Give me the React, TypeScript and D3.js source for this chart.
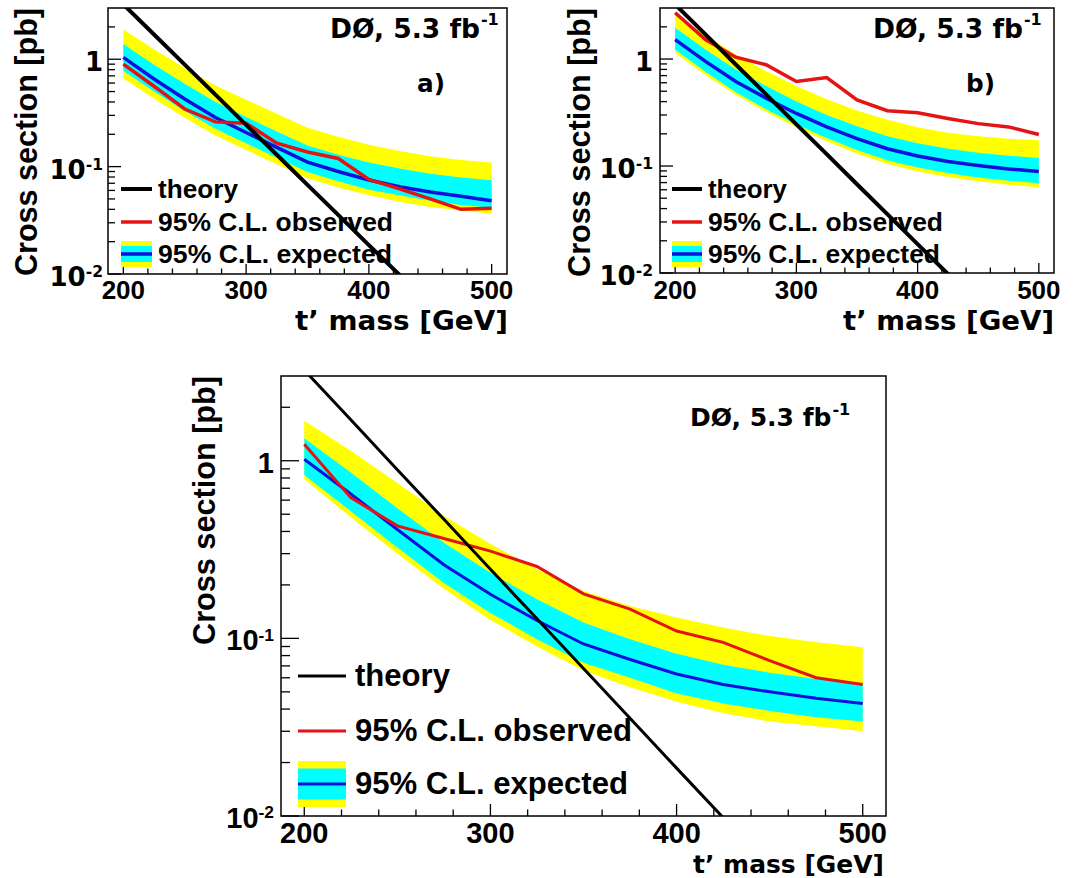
import React from "react";
import * as d3 from "d3";

const MASS = [200, 225, 250, 275, 300, 325, 350, 375, 400, 425, 450, 475, 500];
const THEORY = [3.24, 1.7, 0.89, 0.468, 0.245, 0.129, 0.0676, 0.0355, 0.0186, 0.0098, 0.0051, 0.0027, 0.0014];

// panel a)
const A_OBSERVED = [0.9, 0.56, 0.344, 0.261, 0.254, 0.165, 0.137, 0.119, 0.076, 0.062, 0.05, 0.04, 0.041];
const A_EXPECTED = [1.04, 0.655, 0.426, 0.287, 0.208, 0.151, 0.11, 0.09, 0.075, 0.065, 0.058, 0.053, 0.048];
const A_PLUS2 = [1.89, 1.24, 0.83, 0.57, 0.42, 0.31, 0.23, 0.19, 0.16, 0.14, 0.125, 0.115, 0.109];
const A_PLUS1 = [1.39, 0.89, 0.59, 0.4, 0.29, 0.212, 0.157, 0.129, 0.109, 0.096, 0.086, 0.079, 0.0745];
const A_MINUS1 = [0.78, 0.5, 0.33, 0.225, 0.165, 0.121, 0.089, 0.073, 0.061, 0.054, 0.048, 0.044, 0.0414];
const A_MINUS2 = [0.66, 0.43, 0.285, 0.195, 0.143, 0.105, 0.078, 0.064, 0.054, 0.047, 0.042, 0.039, 0.0364];

// panel b)
const B_OBSERVED = [2.71, 1.52, 1.04, 0.885, 0.617, 0.671, 0.414, 0.329, 0.315, 0.278, 0.249, 0.232, 0.197];
const B_EXPECTED = [1.52, 0.95, 0.617, 0.43, 0.31, 0.232, 0.18, 0.145, 0.124, 0.11, 0.101, 0.094, 0.0887];
const B_PLUS2 = [2.65, 1.68, 1.1, 0.77, 0.56, 0.42, 0.33, 0.27, 0.23, 0.205, 0.19, 0.18, 0.174];
const B_PLUS1 = [1.96, 1.23, 0.8, 0.56, 0.4, 0.3, 0.235, 0.19, 0.163, 0.145, 0.133, 0.125, 0.119];
const B_MINUS1 = [1.22, 0.76, 0.49, 0.34, 0.245, 0.183, 0.141, 0.113, 0.097, 0.086, 0.078, 0.073, 0.069];
const B_MINUS2 = [1.14, 0.71, 0.46, 0.32, 0.23, 0.17, 0.13, 0.105, 0.089, 0.079, 0.072, 0.067, 0.063];

// combined (bottom)
const C_OBSERVED = [1.24, 0.62, 0.43, 0.365, 0.31, 0.254, 0.178, 0.146, 0.11, 0.095, 0.075, 0.06, 0.055];
const C_EXPECTED = [1.02, 0.65, 0.41, 0.26, 0.177, 0.126, 0.093, 0.076, 0.063, 0.055, 0.05, 0.046, 0.043];
const C_PLUS2 = [1.68, 1.14, 0.75, 0.49, 0.34, 0.245, 0.185, 0.152, 0.131, 0.115, 0.103, 0.095, 0.089];
const C_PLUS1 = [1.34, 0.86, 0.54, 0.345, 0.234, 0.166, 0.123, 0.099, 0.082, 0.071, 0.064, 0.059, 0.055];
const C_MINUS1 = [0.83, 0.52, 0.325, 0.205, 0.139, 0.099, 0.073, 0.06, 0.049, 0.043, 0.039, 0.036, 0.034];
const C_MINUS2 = [0.79, 0.48, 0.3, 0.19, 0.127, 0.09, 0.066, 0.053, 0.044, 0.038, 0.034, 0.032, 0.03];

const X_DOMAIN = [187.5, 512.5];
const Y_DOMAIN = [0.01, 3];
const X_LABELS = [200, 300, 400, 500];
const Y_LABELS = [
  { value: 1, base: "1", exp: "" },
  { value: 0.1, base: "10", exp: "-1" },
  { value: 0.01, base: "10", exp: "-2" },
];
const LEGEND_LABELS = ["theory", "95% C.L. observed", "95% C.L. expected"];
const LUMI_TEXT = "DØ, 5.3 fb";
const LUMI_EXP = "-1";
const X_TITLE = "t\u2019 mass [GeV]";
const Y_TITLE = "Cross section [pb]";

const HELV = "'Liberation Sans', Arial, Helvetica, sans-serif";
const DEJAVU = "'DejaVu Sans', 'Liberation Sans', sans-serif";
const YELLOW = "#ffff00";
const CYAN = "#00ffff";
const BLUE = "#1010dc";
const RED = "#e41414";

const LAYOUT_A = {
  frame: { l: 108, t: 8, r: 507, b: 274 },
  xLabel: { family: HELV, size: 26, baseline: 299 },
  yLabel: { family: DEJAVU, size: 26, right: 103, dy: 12 },
  majorY: 13, minorY: 7, majorX: 10, minorX: 5.5,
  yTitle: { x: 37, top: 8, length: 268, font: 30.5 },
  xTitle: { right: 508, baseline: 330, length: 213, font: 27 },
  legend: { x1: 121, x2: 152, tx: 158, rows: [189, 222, 254], widths: [80, 235, 234], font: 26.5, dy: 9, yellowHalf: 13, cyanHalf: 8 },
  lumi: { x: 330, baseline: 38, font: 26.5, supFont: 16, supDy: -13 },
  tag: { text: "a)", x: 417, baseline: 92, length: 28, font: 25 },
  widths: { theory: 4, observed: 3.5, expected: 3.5 },
};

const LAYOUT_B = {
  frame: { l: 660, t: 8, r: 1054, b: 273 },
  xLabel: { family: HELV, size: 26, baseline: 299 },
  yLabel: { family: DEJAVU, size: 26, right: 653, dy: 12 },
  majorY: 13, minorY: 7, majorX: 10, minorX: 5.5,
  yTitle: { x: 590, top: 8, length: 269, font: 30.5 },
  xTitle: { right: 1054, baseline: 330, length: 211, font: 27 },
  legend: { x1: 672, x2: 702, tx: 708, rows: [189, 222, 254], widths: [79, 235, 232], font: 26.5, dy: 9, yellowHalf: 13, cyanHalf: 8 },
  lumi: { x: 873, baseline: 38, font: 26.5, supFont: 16, supDy: -13 },
  tag: { text: "b)", x: 966, baseline: 92, length: 29, font: 25 },
  widths: { theory: 4, observed: 3.5, expected: 3.5 },
};

const LAYOUT_C = {
  frame: { l: 281, t: 376, r: 886, b: 816 },
  xLabel: { family: HELV, size: 29, baseline: 843 },
  yLabel: { family: HELV, size: 29, right: 274, dy: 12 },
  majorY: 18, minorY: 9, majorX: 12, minorX: 6.5,
  yTitle: { x: 215, top: 376, length: 269, font: 30.5 },
  xTitle: { right: 884, baseline: 873, length: 191, font: 25.5 },
  legend: { x1: 298, x2: 346, tx: 355, rows: [676, 731, 784], widths: [95, 277, 273], font: 31, dy: 10, yellowHalf: 23, cyanHalf: 15.5 },
  lumi: { x: 690, baseline: 426, font: 25, supFont: 16, supDy: -11 },
  tag: null,
  widths: { theory: 3, observed: 3, expected: 3 },
};

type Series = { observed: number[]; expected: number[]; plus1: number[]; minus1: number[]; plus2: number[]; minus2: number[] };

function LimitPanel({ id, layout, series }: { id: string; layout: any; series: Series }) {
  const { frame, legend } = layout;
  const x = d3.scaleLinear().domain(X_DOMAIN).range([frame.l, frame.r]);
  const y = d3.scaleLog().domain(Y_DOMAIN).range([frame.b, frame.t]);

  const line = (vals: number[]) =>
    d3.line<number>().x((_, i) => x(MASS[i])).y((v) => y(v))(vals) ?? "";
  const band = (lo: number[], hi: number[]) =>
    d3.area<number>().x((m) => x(m)).y0((_, i) => y(lo[i])).y1((_, i) => y(hi[i]))(MASS) ?? "";

  const yTicks = y.ticks().filter((v) => v < Y_DOMAIN[1] * 0.99);
  const xTicks = d3.range(200, 501, 20);
  const isDecade = (v: number) => Math.abs(Math.log10(v) - Math.round(Math.log10(v))) < 1e-6;

  return (
    <g fontWeight="bold" fill="#000">
      <defs>
        <clipPath id={`clip-${id}`}>
          <rect x={frame.l} y={frame.t} width={frame.r - frame.l} height={frame.b - frame.t} />
        </clipPath>
      </defs>

      <g clipPath={`url(#clip-${id})`}>
        <path d={band(series.minus2, series.plus2)} fill={YELLOW} />
        <path d={band(series.minus1, series.plus1)} fill={CYAN} />
        <path d={line(series.expected)} fill="none" stroke={BLUE} strokeWidth={layout.widths.expected} />
        <path d={line(series.observed)} fill="none" stroke={RED} strokeWidth={layout.widths.observed} />
        <path d={line(THEORY)} fill="none" stroke="#000" strokeWidth={layout.widths.theory} />
      </g>

      <rect x={frame.l} y={frame.t} width={frame.r - frame.l} height={frame.b - frame.t} fill="none" stroke="#000" strokeWidth={1.5} />

      {yTicks.map((v) => (
        <line key={`yt${v}`} x1={frame.l} x2={frame.l + (isDecade(v) ? layout.majorY : layout.minorY)} y1={y(v)} y2={y(v)} stroke="#000" strokeWidth={1.3} />
      ))}
      {xTicks.map((v) => (
        <line key={`xt${v}`} x1={x(v)} x2={x(v)} y1={frame.b} y2={frame.b - (v % 100 === 0 ? layout.majorX : layout.minorX)} stroke="#000" strokeWidth={1.3} />
      ))}

      {X_LABELS.map((v) => (
        <text key={`xl${v}`} x={x(v)} y={layout.xLabel.baseline} textAnchor="middle" fontFamily={layout.xLabel.family} fontSize={layout.xLabel.size}>
          {v}
        </text>
      ))}
      {Y_LABELS.map((d) => (
        <text
          key={`yl${d.value}`}
          x={layout.yLabel.right}
          y={y(d.value) + layout.yLabel.dy}
          textAnchor="end"
          fontFamily={layout.yLabel.family}
          fontSize={layout.yLabel.size}
        >
          {d.base}
          {d.exp ? (
            <tspan dy={-layout.yLabel.size * 0.33} fontSize={layout.yLabel.size * 0.6}>
              {d.exp}
            </tspan>
          ) : null}
        </text>
      ))}

      <text
        x={layout.xTitle.right}
        y={layout.xTitle.baseline}
        textAnchor="end"
        fontFamily={DEJAVU}
        fontSize={layout.xTitle.font}
        textLength={layout.xTitle.length}
        lengthAdjust="spacingAndGlyphs"
      >
        {X_TITLE}
      </text>
      <text
        transform={`translate(${layout.yTitle.x},${layout.yTitle.top}) rotate(-90)`}
        textAnchor="end"
        fontFamily={HELV}
        fontSize={layout.yTitle.font}
        textLength={layout.yTitle.length}
        lengthAdjust="spacingAndGlyphs"
      >
        {Y_TITLE}
      </text>

      <text x={layout.lumi.x} y={layout.lumi.baseline} fontFamily={DEJAVU} fontSize={layout.lumi.font}>
        {LUMI_TEXT}
        <tspan dx={1} dy={layout.lumi.supDy} fontSize={layout.lumi.supFont}>
          {LUMI_EXP}
        </tspan>
      </text>
      {layout.tag ? (
        <text
          x={layout.tag.x}
          y={layout.tag.baseline}
          fontFamily={DEJAVU}
          fontSize={layout.tag.font}
          textLength={layout.tag.length}
          lengthAdjust="spacingAndGlyphs"
        >
          {layout.tag.text}
        </text>
      ) : null}

      {/* legend */}
      <line x1={legend.x1} x2={legend.x2} y1={legend.rows[0]} y2={legend.rows[0]} stroke="#000" strokeWidth={layout.widths.theory} />
      <line x1={legend.x1} x2={legend.x2} y1={legend.rows[1]} y2={legend.rows[1]} stroke={RED} strokeWidth={layout.widths.observed} />
      <rect x={legend.x1} y={legend.rows[2] - legend.yellowHalf} width={legend.x2 - legend.x1} height={legend.yellowHalf * 2} fill={YELLOW} />
      <rect x={legend.x1} y={legend.rows[2] - legend.cyanHalf} width={legend.x2 - legend.x1} height={legend.cyanHalf * 2} fill={CYAN} />
      <line x1={legend.x1} x2={legend.x2} y1={legend.rows[2]} y2={legend.rows[2]} stroke={BLUE} strokeWidth={layout.widths.expected} />
      {LEGEND_LABELS.map((label, i) => (
        <text
          key={label}
          x={legend.tx}
          y={legend.rows[i] + legend.dy}
          fontFamily={HELV}
          fontSize={legend.font}
          textLength={legend.widths[i]}
          lengthAdjust="spacingAndGlyphs"
        >
          {label}
        </text>
      ))}
    </g>
  );
}

export default function App() {
  return (
    <svg width={1089} height={878} viewBox="0 0 1089 878" style={{ position: "absolute", left: 0, top: 0, background: "#fff" }}>
      <rect width={1089} height={878} fill="#fff" />
      <LimitPanel
        id="a"
        layout={LAYOUT_A}
        series={{ observed: A_OBSERVED, expected: A_EXPECTED, plus1: A_PLUS1, minus1: A_MINUS1, plus2: A_PLUS2, minus2: A_MINUS2 }}
      />
      <LimitPanel
        id="b"
        layout={LAYOUT_B}
        series={{ observed: B_OBSERVED, expected: B_EXPECTED, plus1: B_PLUS1, minus1: B_MINUS1, plus2: B_PLUS2, minus2: B_MINUS2 }}
      />
      <LimitPanel
        id="c"
        layout={LAYOUT_C}
        series={{ observed: C_OBSERVED, expected: C_EXPECTED, plus1: C_PLUS1, minus1: C_MINUS1, plus2: C_PLUS2, minus2: C_MINUS2 }}
      />
    </svg>
  );
}
